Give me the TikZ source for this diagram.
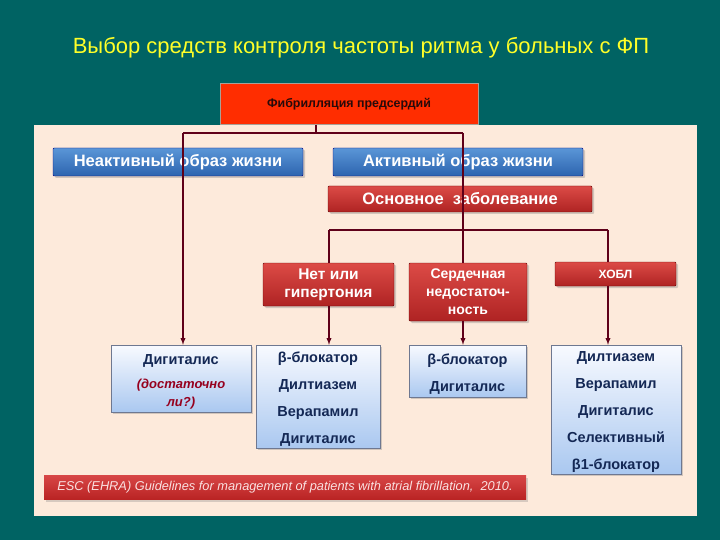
\documentclass[tikz,border=0pt]{standalone}
\usepackage{fontspec}
\setmainfont{Liberation Sans}
\usepackage{xcolor}
\usetikzlibrary{shapes,arrows,positioning,shadows}

\definecolor{slidebg}{RGB}{0,99,99}
\definecolor{panelbg}{RGB}{253,234,219}
\definecolor{linkcol}{RGB}{95,0,25}
\definecolor{navytext}{RGB}{20,40,85}
\definecolor{qred}{RGB}{150,0,30}
\newcommand{\firstline}{\rule{0pt}{16pt}}

\begin{document}
\begin{tikzpicture}[
    x=1pt, y=-1pt,
    lifestyle/.style={rectangle, draw=blue!50!black, rounded corners=1pt, top color={rgb,255:red,90;green,150;blue,215}, bottom color={rgb,255:red,45;green,100;blue,175}, text=white, font=\bfseries\fontsize{16.5}{18}\selectfont, minimum width=250, minimum height=28, inner sep=0pt, drop shadow={shadow xshift=2pt, shadow yshift=-2pt, opacity=0.35}},
    disease/.style={rectangle, draw=red!40!black, rounded corners=1pt, top color={rgb,255:red,220;green,75;blue,70}, bottom color={rgb,255:red,175;green,35;blue,35}, text=white, font=\bfseries\fontsize{14.5}{18}\selectfont, align=center, inner sep=0pt, drop shadow={shadow xshift=2pt, shadow yshift=-2pt, opacity=0.35}},
    drugs/.style={rectangle, draw={rgb,255:red,110;green,120;blue,145}, top color={rgb,255:red,248;green,250;blue,255}, bottom color={rgb,255:red,170;green,200;blue,240}, text=navytext, font=\bfseries\fontsize{14.5}{27}\selectfont, align=center, inner sep=0pt, drop shadow={shadow xshift=2pt, shadow yshift=-2pt, opacity=0.35}},
    link/.style={draw=linkcol, line width=1.3pt},
    arrow/.style={->, >=latex, draw=linkcol, line width=1.3pt}
]
    % background and panel
    \fill[slidebg] (0,0) rectangle (720,540);
    \useasboundingbox (0,0) rectangle (720,540);
    \fill[panelbg] (34,125) rectangle (697,516);

    \node[text={rgb,255:red,255;green,255;blue,40}, font=\fontsize{22}{25}\selectfont] (title) at (361,47.5) {Выбор средств контроля частоты ритма у больных с ФП};

    \node[rectangle, draw={rgb,255:red,170;green,160;blue,150}, line width=1pt, fill={rgb,255:red,255;green,45;blue,0}, minimum width=258, minimum height=41, inner sep=0pt, font=\bfseries\fontsize{12.4}{14}\selectfont, text={rgb,255:red,40;green,10;blue,10}] (af) at (349,104) {Фибрилляция предсердий};

    % lifestyle
    \node[lifestyle] (inactive) at (178,162) {Неактивный образ жизни};
    \node[lifestyle] (active) at (458,162) {Активный образ жизни};
    \node[disease, minimum width=264, minimum height=26, font=\bfseries\fontsize{16.5}{18}\selectfont] (base) at (460,199) {Основное\ \ заболевание};

    % diseases
    \node[disease, minimum width=131, minimum height=43, font=\bfseries\fontsize{15.5}{18}\selectfont] (hyper) at (328.5,284.5) {Нет или\\гипертония};
    \node[disease, minimum width=118, minimum height=58, font=\bfseries\fontsize{14}{18}\selectfont] (hf) at (468,292) {Сердечная\\недостаточ-\\ность};
    \node[disease, minimum width=121, minimum height=24, font=\bfseries\fontsize{12}{16}\selectfont] (copd) at (615.5,274) {ХОБЛ};

    % drugs
    \node[drugs, minimum width=140, minimum height=67] (dig) at (181,378.5) {\firstline Дигиталис\\[-3pt]{\color{qred}\itshape\fontsize{13}{17}\selectfont(достаточно}\\[-9pt]{\color{qred}\itshape\fontsize{13}{17}\selectfont ли?)}};
    \node[drugs, minimum width=124, minimum height=103] (d1) at (318,396.5) {\firstline β-блокатор\\Дилтиазем\\Верапамил\\Дигиталис};
    \node[drugs, minimum width=117, minimum height=52] (d2) at (467.5,371) {\firstline β-блокатор\\Дигиталис};
    \node[drugs, minimum width=130, minimum height=129] (d3) at (616,409.5) {\firstline Дилтиазем\\Верапамил\\Дигиталис\\Селективный\\β1-блокатор};

    % connectors
    \coordinate (topbar) at (316,133);
    \coordinate (midbar) at (463,230);
    \draw[link] (316,0 |- af.south) -- (topbar);
    \draw[link] (183,133) -- (463,133);
    \draw[arrow] (183,133) -- (183,0 |- dig.north);
    \draw[link] (463,133) -- (midbar);
    \draw[link] (329,230) -- (608,230);
    \draw[link] (329,230) -- (329,0 |- hyper.north);
    \draw[link] (463,230) -- (463,0 |- hf.north);
    \draw[link] (608,230) -- (608,0 |- copd.north);
    \draw[arrow] (329,0 |- hyper.south) -- (329,0 |- d1.north);
    \draw[arrow] (463,0 |- hf.south) -- (463,0 |- d2.north);
    \draw[arrow] (608,0 |- copd.south) -- (608,0 |- d3.north);

    \node[rectangle, top color={rgb,255:red,215;green,70;blue,70}, bottom color={rgb,255:red,185;green,35;blue,35}, text={rgb,255:red,250;green,225;blue,225}, minimum width=482, minimum height=24, inner sep=0pt, font=\itshape\fontsize{12.8}{14}\selectfont, drop shadow={shadow xshift=2pt, shadow yshift=-2pt, opacity=0.3}] (source) at (285,487.5) {ESC (EHRA) Guidelines for management of patients with atrial fibrillation,\ \ 2010.};
\end{tikzpicture}
\end{document}
